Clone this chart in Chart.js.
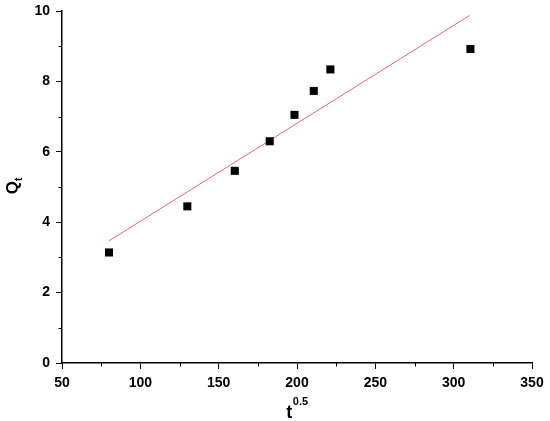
<!DOCTYPE html>
<html>
<head>
<meta charset="utf-8">
<script src="https://cdn.jsdelivr.net/npm/chart.js@4/dist/chart.umd.min.js"></script>
<style>
  html, body { margin: 0; padding: 0; background: #fff; }
  #wrap { width: 550px; height: 421px; }
</style>
</head>
<body>
<div id="wrap"><canvas id="chart"></canvas></div>
<script>
// data
const tValues = [80, 130, 160.3, 182.6, 198.4, 210.7, 221.3, 310.7];
const qValues = [3.14, 4.45, 5.46, 6.30, 7.05, 7.73, 8.34, 8.92];
const fitT = [80, 310];
const fitQ = [3.47, 9.87];
const xTicks = [50, 100, 150, 200, 250, 300, 350];
const yTicks = [0, 2, 4, 6, 8, 10];

const FONT = "'Liberation Sans', Arial, sans-serif";

// minor ticks + axis titles with sub/superscript
const extras = {
    id: "extras",
    afterDraw(chart) {
        const ctx = chart.ctx;
        const x = chart.scales.x, y = chart.scales.y;
        const area = chart.chartArea;
        ctx.save();
        ctx.strokeStyle = "#000";
        ctx.lineWidth = 1;
        for (let i = 0; i < xTicks.length - 1; i++) {
            const px = Math.round(x.getPixelForValue((xTicks[i] + xTicks[i + 1]) / 2)) + 0.5;
            ctx.beginPath();
            ctx.moveTo(px, area.bottom);
            ctx.lineTo(px, area.bottom + 3.5);
            ctx.stroke();
        }
        for (let i = 0; i < yTicks.length - 1; i++) {
            const py = Math.round(y.getPixelForValue((yTicks[i] + yTicks[i + 1]) / 2)) + 0.5;
            ctx.beginPath();
            ctx.moveTo(area.left, py);
            ctx.lineTo(area.left - 3.5, py);
            ctx.stroke();
        }

        ctx.fillStyle = "#000";
        ctx.textBaseline = "alphabetic";
        // x title: t^0.5
        const cx = (area.left + area.right) / 2;
        ctx.font = "bold 18px " + FONT;
        const wt = ctx.measureText("t").width;
        ctx.font = "bold 11px " + FONT;
        const ws = ctx.measureText("0.5").width;
        let sx = cx - (wt + ws) / 2;
        ctx.textAlign = "left";
        ctx.font = "bold 18px " + FONT;
        ctx.fillText("t", sx, 418);
        ctx.font = "bold 11px " + FONT;
        ctx.fillText("0.5", sx + wt + 0.5, 405);

        // y title: Q_t, rotated
        const cy = (area.top + area.bottom) / 2 - 1;
        ctx.translate(18, cy);
        ctx.rotate(-Math.PI / 2);
        ctx.font = "bold 17px " + FONT;
        const wq = ctx.measureText("Q").width;
        ctx.font = "bold 10px " + FONT;
        const wsub = ctx.measureText("t").width;
        sx = -(wq + wsub) / 2;
        ctx.font = "bold 17px " + FONT;
        ctx.fillText("Q", sx, 0);
        ctx.font = "bold 10px " + FONT;
        ctx.fillText("t", sx + wq, 4);
        ctx.restore();
    }
};

new Chart(document.getElementById("chart"), {
    type: "scatter",
    data: {
        datasets: [{
            label: "Qt",
            data: tValues.map((t, i) => ({ x: t, y: qValues[i] })),
            pointStyle: "rect",
            pointRadius: 5.7,
            pointHoverRadius: 5.7,
            backgroundColor: "#000",
            borderWidth: 0
        }, {
            type: "line",
            label: "fit",
            data: fitT.map((t, i) => ({ x: t, y: fitQ[i] })),
            borderColor: "#e8676a",
            borderWidth: 1,
            pointRadius: 0,
            fill: false
        }]
    },
    options: {
        responsive: true,
        maintainAspectRatio: false,
        animation: false,
        layout: { padding: { top: 11, right: 18, left: 0, bottom: 0 } },
        plugins: { legend: { display: false }, tooltip: { enabled: false } },
        scales: {
            x: {
                type: "linear",
                min: 50, max: 350,
                afterBuildTicks: s => { s.ticks = xTicks.map(v => ({ value: v })); },
                afterFit: s => { s.height = 58; },
                border: { display: true, color: "#000", width: 1.5 },
                grid: { drawOnChartArea: false, color: "#000", tickLength: 6, lineWidth: 1 },
                ticks: { color: "#000", padding: 6, maxRotation: 0, font: { family: FONT, size: 14, weight: "bold" } }
            },
            y: {
                min: 0, max: 10,
                afterBuildTicks: s => { s.ticks = yTicks.map(v => ({ value: v })); },
                afterFit: s => { s.width = 62; s.paddingTop = 0; s.paddingBottom = 0; },
                border: { display: true, color: "#000", width: 1.5 },
                grid: { drawOnChartArea: false, color: "#000", tickLength: 6, lineWidth: 1 },
                ticks: { color: "#000", padding: 6, font: { family: FONT, size: 14, weight: "bold" } }
            }
        }
    },
    plugins: [extras]
});
</script>
</body>
</html>
